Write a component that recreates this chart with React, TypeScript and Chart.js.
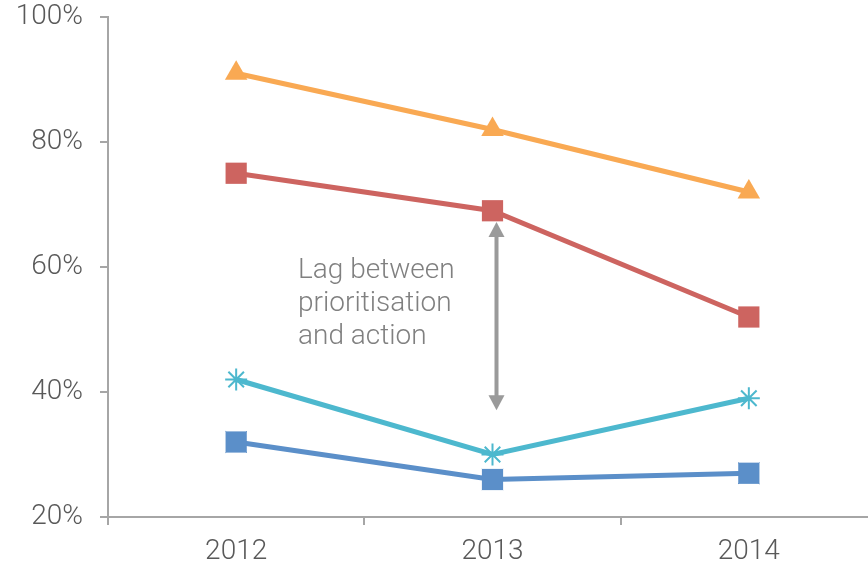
import React, { useEffect, useRef } from "react";
import { Chart, registerables } from "chart.js";

Chart.register(...registerables);

const categories = ["2012", "2013", "2014"];
const yTicks = [20, 40, 60, 80, 100];
const orangeTriangle = [91, 82, 72];
const redSquare = [75, 69, 52];
const cyanStar = [42, 30, 39];
const blueSquare = [32, 26, 27];
const annotationLines = ["Lag between", "prioritisation", "and action"];
const arrowCategory = "2013";
const arrowFrom = 67.2;
const arrowTo = 37.1;

const FONT = "Roboto";
const annotationPlugin = {
  id: "lagAnnotation",
  afterDatasetsDraw(chart: any) {
    const { ctx, scales } = chart;
    const x = scales.x.getPixelForValue(categories.indexOf(arrowCategory)) + 4;
    const y1 = scales.y.getPixelForValue(arrowFrom);
    const y2 = scales.y.getPixelForValue(arrowTo);
    ctx.save();
    ctx.strokeStyle = "#9A9A9A";
    ctx.fillStyle = "#9A9A9A";
    ctx.lineWidth = 4;
    const head = 15;
    const hw = 8;
    ctx.beginPath();
    ctx.moveTo(x, y1 + head - 2);
    ctx.lineTo(x, y2 - head + 2);
    ctx.stroke();
    ctx.beginPath();
    ctx.moveTo(x, y1);
    ctx.lineTo(x - hw, y1 + head);
    ctx.lineTo(x + hw, y1 + head);
    ctx.closePath();
    ctx.fill();
    ctx.beginPath();
    ctx.moveTo(x, y2);
    ctx.lineTo(x - hw, y2 - head);
    ctx.lineTo(x + hw, y2 - head);
    ctx.closePath();
    ctx.fill();
    ctx.fillStyle = "#808080";
    ctx.font = `300 28px ${FONT}`;
    ctx.textAlign = "left";
    ctx.textBaseline = "alphabetic";
    annotationLines.forEach((t, i) => {
      ctx.fillText(t, 298, 278 + i * 33);
    });
    ctx.restore();
  },
};

export default function App() {
  const ref = useRef<HTMLCanvasElement>(null);
  useEffect(() => {
    if (!ref.current) return;
    const chart = new Chart(ref.current, {
      type: "line",
      data: {
        labels: categories,
        datasets: [
          {
            data: orangeTriangle,
            borderColor: "#F9A953",
            backgroundColor: "#F9A953",
            borderWidth: 5,
            pointStyle: "triangle",
            pointRadius: 13,
            pointBorderWidth: 0,
          },
          {
            data: redSquare,
            borderColor: "#CD6460",
            backgroundColor: "#CD6460",
            borderWidth: 5,
            pointStyle: "rect",
            pointRadius: 15,
            pointBorderWidth: 0,
          },
          {
            data: cyanStar,
            borderColor: "#4DB8CE",
            backgroundColor: "#4DB8CE",
            borderWidth: 5,
            pointStyle: "star",
            pointRadius: 11,
            pointBorderWidth: 2,
          },
          {
            data: blueSquare,
            borderColor: "#5B8FC9",
            backgroundColor: "#5B8FC9",
            borderWidth: 5,
            pointStyle: "rect",
            pointRadius: 15,
            pointBorderWidth: 0,
          },
          {
            data: blueSquare,
            showLine: false,
            borderColor: "#4677B0",
            backgroundColor: "#4677B0",
            pointStyle: "crossRot",
            pointRadius: 15,
            pointBorderWidth: 1,
          },
        ],
      },
      options: {
        responsive: false,
        animation: false,
        layout: { padding: { top: 17, right: 4, left: 0, bottom: 0 } },
        plugins: { legend: { display: false }, tooltip: { enabled: false } },
        scales: {
          x: {
            type: "category",
            offset: true,
            grid: {
              offset: true,
              drawOnChartArea: false,
              drawTicks: true,
              tickLength: 8,
              color: "#A6A6A6",
              lineWidth: 2,
            },
            border: { color: "#A6A6A6", width: 2 },
            ticks: {
              color: "#595959",
              font: { family: FONT, size: 28, weight: "300" as any },
              padding: 10,
            },
            afterFit(scale: any) {
              scale.height = 49;
              scale.paddingLeft = 0;
              scale.paddingRight = 0;
            },
          },
          y: {
            min: 20,
            max: 100,
            afterBuildTicks(scale: any) {
              scale.ticks = yTicks.map((v) => ({ value: v }));
            },
            grid: {
              drawOnChartArea: false,
              drawTicks: true,
              tickLength: 8,
              color: "#A6A6A6",
              lineWidth: 2,
            },
            border: { color: "#A6A6A6", width: 2 },
            ticks: {
              color: "#595959",
              font: { family: FONT, size: 28, weight: "300" as any },
              padding: 17,
              callback: (v: any) => `${v}%`,
            },
            afterFit(scale: any) {
              scale.width = 108;
              scale.paddingTop = 0;
              scale.paddingBottom = 0;
            },
          },
        },
      },
      plugins: [annotationPlugin],
    });
    return () => chart.destroy();
  }, []);
  return (
    <div
      style={{
        position: "fixed",
        left: 0,
        top: 0,
        width: 868,
        height: 566,
        overflow: "hidden",
        background: "#fff",
      }}
    >
      <canvas ref={ref} width={893} height={566} />
    </div>
  );
}
